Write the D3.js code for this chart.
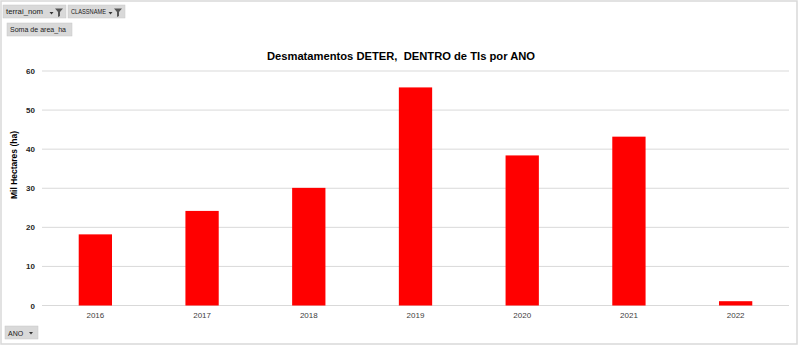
<!DOCTYPE html>
<html><head><meta charset="utf-8">
<script src="https://cdn.jsdelivr.net/npm/d3@7"></script>
<style>
html,body{margin:0;padding:0;background:#fff;}
svg{display:block;font-family:"Liberation Sans",Arial,sans-serif;}
</style></head>
<body>
<svg id="c" width="800" height="346"></svg>
<script>
const years = ["2016","2017","2018","2019","2020","2021","2022"];
const values = [18.2, 24.2, 30.1, 55.8, 38.4, 43.2, 1.1];
const yTicks = [0,10,20,30,40,50,60];
const titleText = "Desmatamentos DETER,  DENTRO de TIs por ANO";
const yTitle = "Mil Hectares (ha)";

(function(){
const svg = d3.select("#c");
const W = 800, H = 346;
const mLeft = 42, mRight = 789, mTop = 71, mBottom = 305.5;

// frame
svg.append("rect").attr("x",1).attr("y",1).attr("width",W-4).attr("height",H-3)
  .attr("fill","#fff").attr("stroke","#d9d9d9").attr("stroke-width",1.5);

const x = d3.scaleBand().domain(years).range([mLeft,mRight]).paddingInner(0.688).paddingOuter(0.344);
const y = d3.scaleLinear().domain([0,60]).range([mBottom,mTop]);

// gridlines
svg.append("g").selectAll("line").data(yTicks).join("line")
  .attr("x1",mLeft).attr("x2",mRight)
  .attr("y1",d=>y(d)).attr("y2",d=>y(d))
  .attr("stroke","#d9d9d9").attr("stroke-width",1);

// y axis labels
const ya = svg.append("g").attr("transform",`translate(${mLeft},0)`)
  .call(d3.axisLeft(y).tickValues(yTicks).tickSize(0).tickPadding(7));
ya.select(".domain").remove();
ya.selectAll("text").attr("font-size",8).attr("font-weight","bold").attr("fill","#262626")
  .attr("font-family","'Liberation Sans',Arial,sans-serif");

// bars
svg.append("g").selectAll("rect").data(values).join("rect")
  .attr("x",(d,i)=>x(years[i])).attr("width",x.bandwidth())
  .attr("y",d=>y(d)).attr("height",d=>y(0)-y(d))
  .attr("fill","#ff0000");

// x axis labels
const xa = svg.append("g").attr("transform",`translate(0,${mBottom})`)
  .call(d3.axisBottom(x).tickSize(0).tickPadding(7));
xa.select(".domain").remove();
xa.selectAll("text").attr("font-size",8).attr("fill","#404040")
  .attr("font-family","'Liberation Sans',Arial,sans-serif");

// title
svg.append("text").attr("x",401).attr("y",59.5).attr("text-anchor","middle")
  .attr("font-size",11.2).attr("font-weight","bold").attr("fill","#000")
  .style("white-space","pre")
  .text(titleText);

// y title
svg.append("text").attr("transform","translate(17,165) rotate(-90)")
  .attr("text-anchor","middle").attr("font-size",8.5).attr("font-weight","bold").attr("fill","#000")
  .text(yTitle);

// small dropdown arrow drawn as a path
function arrow(g,ax,ay){
  g.append("path").attr("d",`M${ax},${ay} h4 l-2,2.5 z`).attr("fill","#333");
}
// pivot buttons
function button(x0,y0,w,h,label,filter,tl){
  const g = svg.append("g");
  g.append("rect").attr("x",x0).attr("y",y0).attr("width",w).attr("height",h)
    .attr("fill","#d9d9d9").attr("stroke","#c8c8c8").attr("stroke-width",0.5);
  const t = g.append("text").attr("x",x0+3).attr("y",y0+h/2+2.6).attr("font-size",7)
    .attr("fill","#1a1a1a").text(label);
  if(tl) t.attr("textLength",tl).attr("lengthAdjust","spacingAndGlyphs");
  if(filter){
    const fx = x0+w-11;
    arrow(g,fx-5.5,y0+h/2+0.5);
    g.append("path").attr("d",`M${fx},${y0+3.5} h8 l-3,3.5 v4 l-2,1 v-5 z`).attr("fill","#555");
  }
}
button(3,5,63,13,"terrai_nom",true,37);
button(68,5,57,13,"CLASSNAME",true,35);
button(7,23,65,13,"Soma de area_ha",false,56);
// ANO button
const ag = svg.append("g");
ag.append("rect").attr("x",5).attr("y",326).attr("width",33).attr("height",13)
  .attr("fill","#d9d9d9").attr("stroke","#c8c8c8").attr("stroke-width",0.5);
ag.append("text").attr("x",8).attr("y",335.5).attr("font-size",7).attr("fill","#1a1a1a").text("ANO");
arrow(ag,29,332);
})();
</script>
</body></html>
